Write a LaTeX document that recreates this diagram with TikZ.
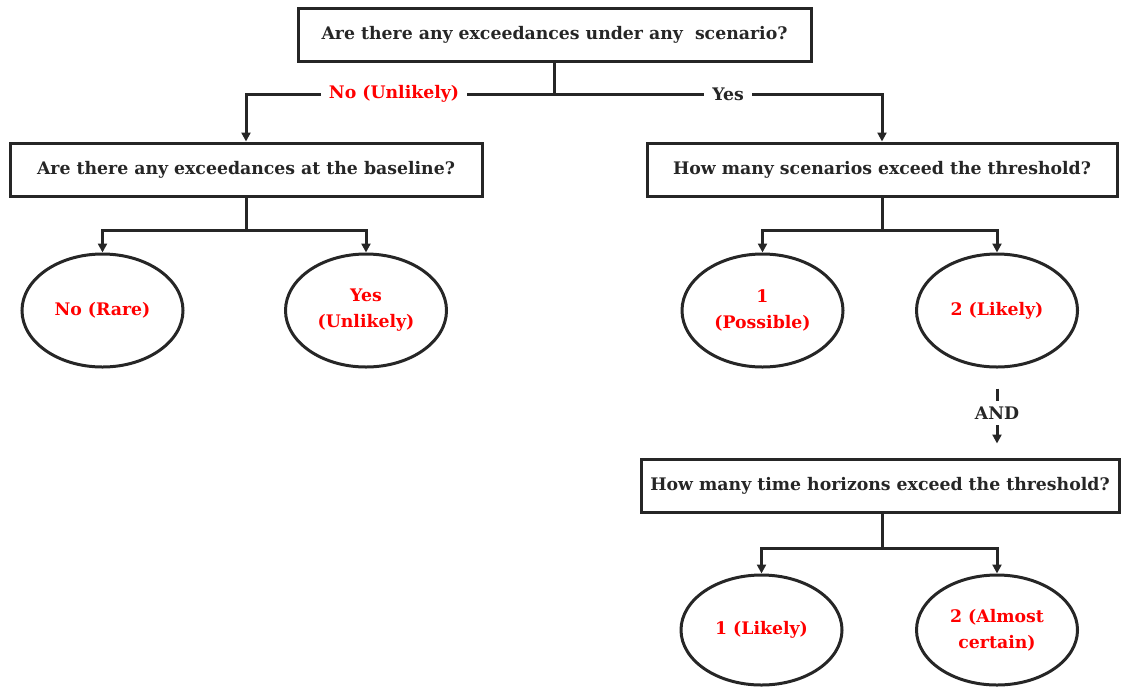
\documentclass[tikz,border=0pt]{standalone}
\usepackage{xcolor}
\usepackage{fontspec}
\setmainfont{DejaVu Serif}
\usepackage{tikz}
\usetikzlibrary{positioning, arrows.meta, shapes.geometric}
\definecolor{rojoriesgo}{HTML}{FF0000}
\definecolor{tinta}{HTML}{262626}

\begin{document}
\begin{tikzpicture}[
    x=1pt, y=-1pt,
    every node/.style={font=\bfseries\fontsize{17.3}{26}\selectfont, text=tinta},
    pregunta/.style={draw=tinta, line width=3pt, minimum height=53pt, inner sep=0pt},
    nivel/.style={ellipse, draw=tinta, line width=3pt, minimum width=161pt, minimum height=113pt,
        inner sep=0pt, align=center, text=rojoriesgo},
    linea/.style={draw=tinta, line width=3pt},
    flecha/.style={linea, -{Triangle[length=9pt, width=9pt]}},
    rotulo/.style={fill=white, inner xsep=8pt, inner ysep=2pt}
]
\useasboundingbox (0,0) rectangle (1123,686);

% preguntas
\node[pregunta, minimum width=513pt] (escenario) at (554.5,34.5) {Are there any exceedances under any\ \ scenario?};
\node[pregunta, minimum width=472pt] (base) at (246,169.5) {Are there any exceedances at the baseline?};
\node[pregunta, minimum width=470pt] (cuantos) at (882,169.5) {How many scenarios exceed the threshold?};
\node[pregunta, minimum width=478pt] (horizontes) at (880,485.5) {How many time horizons exceed the threshold?};

% niveles
\node[nivel] (rara) at (102.5,310.5) {No (Rare)};
\node[nivel] (improbable) at (366,310.5) {Yes\\(Unlikely)};
\node[nivel] (posible) at (762.5,310.5) {1\\(Possible)};
\node[nivel] (probable) at (997,310.5) {2 (Likely)};
\node[nivel, minimum height=110pt] (probable2) at (761.5,630) {1 (Likely)};
\node[nivel, minimum height=110pt] (casicierto) at (997,630) {2 (Almost\\certain)};

% puntos de union
\coordinate (j1) at (554.5,94);
\coordinate (j2) at (246,230.5);
\coordinate (j3) at (882,230.5);
\coordinate (j4) at (882,548.5);

\draw[linea] (escenario) -- (j1);
\draw[flecha] (j1) -- node[rotulo, pos=0.52, text=rojoriesgo]{No (Unlikely)} (j1 -| base) -- (base);
\draw[flecha] (j1) -- node[rotulo, pos=0.53]{Yes} (j1 -| cuantos) -- (cuantos);

\draw[linea] (base) -- (j2);
\draw[flecha] (j2) -| (rara);
\draw[flecha] (j2) -| (improbable);

\draw[linea] (cuantos) -- (j3);
\draw[flecha] (j3) -| (posible);
\draw[flecha] (j3) -| (probable);

\draw[flecha, shorten <=20pt, shorten >=14pt] (probable.south) -- node[rotulo, inner ysep=6pt]{AND} (probable.south |- horizontes.north);

\draw[linea] (j4 |- horizontes.south) -- (j4);
\draw[flecha] (j4) -| (probable2);
\draw[flecha] (j4) -| (casicierto);
\end{tikzpicture}
\end{document}
